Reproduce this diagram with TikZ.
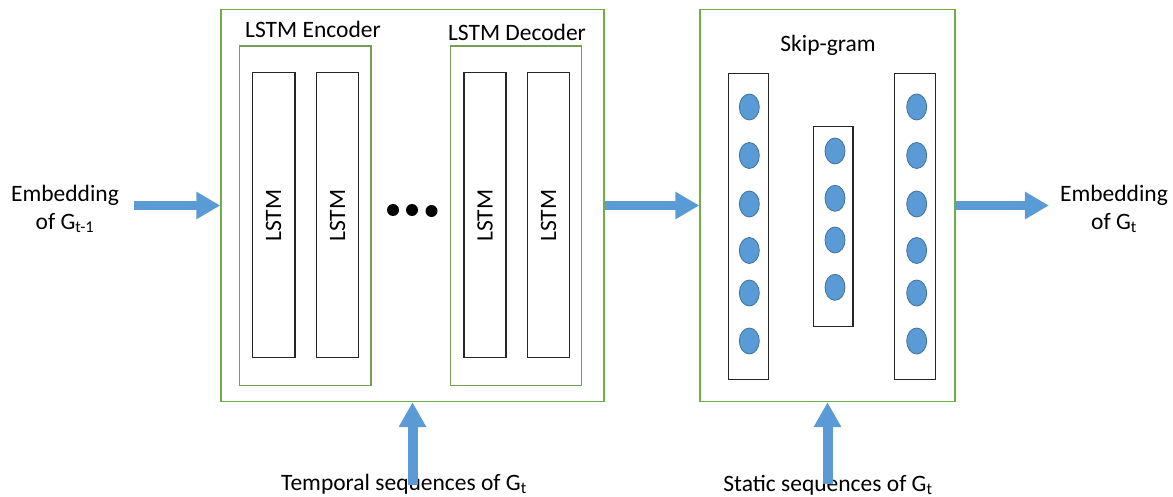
\documentclass[tikz,border=0pt]{standalone}
\usepackage{fontspec}
\setmainfont{Carlito}
\usetikzlibrary{arrows.meta,shapes.geometric}
\definecolor{grn}{HTML}{70AD47}
\definecolor{blu}{HTML}{5B9BD5}
\definecolor{bludk}{HTML}{41719C}
\begin{document}
\begin{tikzpicture}[x=1pt,y=-1pt,
  txt/.style={font=\fontsize{23.5}{28}\selectfont, inner sep=0pt, align=center},
  gbox/.style={draw=grn, line width=1.4pt, inner sep=0pt},
  lbox/.style={draw=black!85, line width=1.2pt, inner sep=0pt},
  unit/.style={ellipse, draw=bludk, line width=0.8pt, fill=blu, minimum width=20pt, minimum height=26pt, inner sep=0pt},
  dot/.style={circle, fill=black, minimum size=12pt, inner sep=0pt},
  flow/.style={draw=blu, line width=8.5pt, -{Triangle[length=24pt,width=26pt]}},
  upflow/.style={draw=blu, line width=10pt, -{Triangle[length=25pt,width=26pt]}}
]
\useasboundingbox (0,0) rectangle (1173,497);
% LSTM part
\node[gbox, minimum width=383pt, minimum height=392pt] (lstm) at (412.5,205.5) {};
\node[gbox, draw=grn!70!gray, minimum width=131.5pt, minimum height=339.5pt] (enc) at (305.2,215.9) {};
\node[gbox, draw=grn!70!gray, minimum width=130.5pt, minimum height=339.5pt] (dec) at (516,215.9) {};
\node[txt] (enclab) at (313,29) {LSTM Encoder};
\node[txt] (declab) at (517,32) {LSTM Decoder};
\node[lbox, minimum width=42.5pt, minimum height=285pt] (e1) at (273.7,214.7) {};
\node[lbox, minimum width=42pt, minimum height=285pt] (e2) at (337.7,214.7) {};
\node[lbox, minimum width=42pt, minimum height=285pt] (d1) at (485,214.7) {};
\node[lbox, minimum width=42pt, minimum height=285pt] (d2) at (548.5,214.7) {};
\foreach \n in {e1,e2,d1,d2}
  \node[txt, rotate=90] (\n t) at ([yshift=-1pt]\n.center) {LSTM};
\node[dot] (dA) at (393,210) {};
\node[dot] (dB) at (412,210) {};
\node[dot] (dC) at (431.5,211) {};
% Skip-gram part
\node[gbox, minimum width=255pt, minimum height=392pt] (skip) at (827.5,205.5) {};
\node[txt] (skiplab) at (828,45) {Skip-gram};
\node[lbox, minimum width=39.5pt, minimum height=306pt] (cL) at (748.5,226.3) {};
\node[lbox, minimum width=39.3pt, minimum height=200pt] (cM) at (833.3,226.2) {};
\node[lbox, minimum width=41pt, minimum height=306pt] (cR) at (915.2,226.3) {};
\foreach \y [count=\i] in {107,155.5,204,250.5,293,341} {
  \node[unit] (l\i) at (749.3,\y) {};
  \node[unit] (r\i) at (916.7,\y) {};
}
\foreach \y [count=\i] in {151,198.3,240,287.3}
  \node[unit] (m\i) at (835,\y) {};
% outside texts
\node[txt] (embin) at (65,209) {Embedding\\of G\textsubscript{t-1}};
\node[txt] (embout) at (1114,209) {Embedding\\of G\textsubscript{t}};
\node[txt] (temp) at (404,484) {Temporal sequences of G\textsubscript{t}};
\node[txt] (stat) at (828,485) {Static sequences of G\textsubscript{t}};
\coordinate (tempstart) at ([yshift=-11pt]temp.north -| lstm.south);
\coordinate (statstart) at ([yshift=-9pt]stat.north -| skip.south);
% arrows
\draw[flow] ([xshift=15pt]embin.east |- lstm.west) -- (lstm.west);
\draw[flow] (lstm.east) -- (skip.west);
\draw[flow] (skip.east) -- ([xshift=-11pt]embout.west |- skip.east);
\draw[upflow] (tempstart) -- (lstm.south);
\draw[upflow] (statstart) -- (skip.south);
\end{tikzpicture}
\end{document}
